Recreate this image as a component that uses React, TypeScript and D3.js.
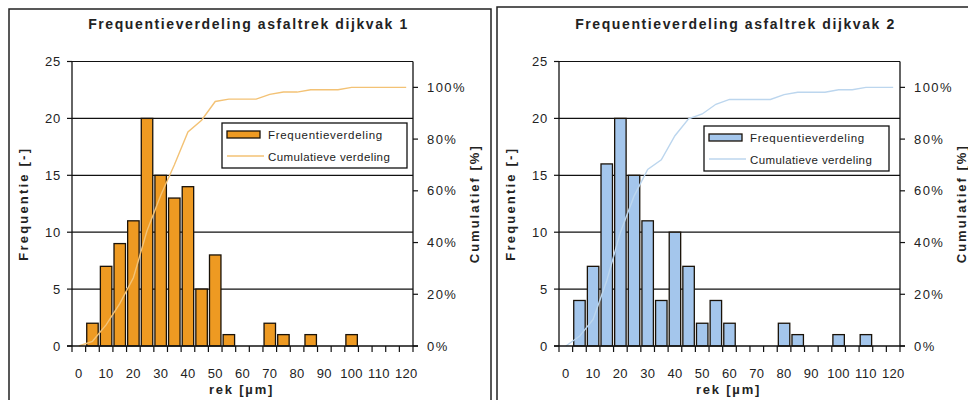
import * as React from "react";
import { scaleBand, scaleLinear, line, cumsum, sum } from "d3";

const categories = [0, 5, 10, 15, 20, 25, 30, 35, 40, 45, 50, 55, 60, 65, 70, 75, 80, 85, 90, 95, 100, 105, 110, 115, 120];
const tickLabels = ["0", "10", "20", "30", "40", "50", "60", "70", "80", "90", "100", "110", "120"];
const freqDijkvak1 = [0, 2, 7, 9, 11, 20, 15, 13, 14, 5, 8, 1, 0, 0, 2, 1, 0, 1, 0, 0, 1, 0, 0, 0, 0];
const freqDijkvak2 = [0, 4, 7, 16, 20, 15, 11, 4, 10, 7, 2, 4, 2, 0, 0, 0, 2, 1, 0, 0, 1, 0, 1, 0, 0];
const freqTicks = [0, 5, 10, 15, 20, 25];
const pctTicks = [0, 0.2, 0.4, 0.6, 0.8, 1.0];
const legendLabels = ["Frequentieverdeling", "Cumulatieve verdeling"];

const FONT = "'Liberation Sans', Arial, sans-serif";
const INK = "#222";

const Chart = (props: {
  left: number; title: string; data: number[]; barFill: string; lineColor: string;
  legendX: number; legendY: number;
}) => {
  const { left, title, data, barFill, lineColor, legendX, legendY } = props;
  const right = left + 341;
  const top = 61.5;
  const bottom = 346;

  const xScale = scaleBand().domain(categories.map(String)).range([left, right]);
  const step = xScale.step();
  const yScale = scaleLinear().domain([0, 25]).range([bottom, top]);
  const pScale = scaleLinear().domain([0, 1.1]).range([bottom, top]);

  const total = sum(data);
  const cum = Array.from(cumsum(data)).map((v) => v / total);
  const cx = (i: number) => (xScale(String(categories[i])) as number) + step / 2;
  const path = line<number>().x((_, i) => cx(i)).y((d) => pScale(d))(cum) || "";

  const midX = (left + right) / 2;
  const midY = (top + bottom) / 2;

  return (
    <g fontFamily={FONT} fill={INK}>
      <text x={midX + 6} y={29} textAnchor="middle" fontWeight="bold" fontSize={14} letterSpacing={1.6}>{title}</text>

      {freqTicks.slice(1).map((t) => (
        <line key={t} x1={left} x2={right} y1={yScale(t)} y2={yScale(t)} stroke="#111" strokeWidth={1.2} />
      ))}

      {data.map((d, i) => d > 0 && (
        <rect key={i} x={(xScale(String(categories[i])) as number) + step * 0.08} y={yScale(d)}
          width={step * 0.84} height={bottom - yScale(d)} fill={barFill} stroke="#1a1208" strokeWidth={1.3} />
      ))}

      <path d={path} fill="none" stroke={lineColor} strokeWidth={1.4} />

      {/* axes */}
      <line x1={left} x2={left} y1={top} y2={bottom} stroke="#111" strokeWidth={1.3} />
      <line x1={right} x2={right} y1={top} y2={bottom} stroke="#111" strokeWidth={1.3} />
      <line x1={left - 5} x2={right + 5} y1={bottom} y2={bottom} stroke="#111" strokeWidth={1.3} />
      {freqTicks.map((t) => (
        <g key={t}>
          <line x1={left - 5} x2={left} y1={yScale(t)} y2={yScale(t)} stroke="#111" strokeWidth={1.2} />
          <text x={left - 11} y={yScale(t)} dy="0.35em" textAnchor="end" fontSize={13} letterSpacing={0.8}>{t}</text>
        </g>
      ))}
      {pctTicks.map((t) => (
        <g key={t}>
          <line x1={right} x2={right + 5} y1={pScale(t)} y2={pScale(t)} stroke="#111" strokeWidth={1.2} />
          <text x={right + 14} y={pScale(t)} dy="0.35em" fontSize={13} letterSpacing={1.4}>{`${Math.round(t * 100)}%`}</text>
        </g>
      ))}
      {categories.concat([125]).map((c, i) => (
        <line key={c} x1={left + i * step} x2={left + i * step} y1={bottom} y2={bottom + 6} stroke="#111" strokeWidth={1.2} />
      ))}
      {tickLabels.map((l) => (
        <text key={l} x={(xScale(l) as number) + step / 2} y={378} textAnchor="middle" fontSize={13} letterSpacing={0.3}>{l}</text>
      ))}

      <text x={midX - 1} y={394} textAnchor="middle" fontWeight="bold" fontSize={13} letterSpacing={1.8}>rek  [µm]</text>
      <text transform={`translate(${left - 44},${midY}) rotate(-90)`} textAnchor="middle" fontWeight="bold" fontSize={13} letterSpacing={2.2}>Frequentie [-]</text>
      <text transform={`translate(${right + 66},${midY}) rotate(-90)`} textAnchor="middle" fontWeight="bold" fontSize={13} letterSpacing={2}>Cumulatief [%]</text>

      {/* legend */}
      <rect x={legendX} y={legendY} width={185} height={45} fill="white" stroke="#111" strokeWidth={1.3} />
      <rect x={legendX + 5} y={legendY + 8} width={33} height={7} fill={barFill} stroke="#1a1208" strokeWidth={1.3} />
      <text x={legendX + 46} y={legendY + 16} fontSize={11.5} letterSpacing={0.7}>{legendLabels[0]}</text>
      <line x1={legendX + 5} x2={legendX + 42} y1={legendY + 33} y2={legendY + 33} stroke={lineColor} strokeWidth={1.4} />
      <text x={legendX + 46} y={legendY + 38} fontSize={11.5} letterSpacing={0.4}>{legendLabels[1]}</text>
    </g>
  );
};

export default function App() {
  return (
    <svg width={968} height={400} style={{ position: "absolute", left: 0, top: 0, background: "white" }}>
      <rect x={0} y={0} width={968} height={400} fill="white" />
      <rect x={9} y={9} width={482} height={400} fill="none" stroke="#222" strokeWidth={1.5} />
      <rect x={497} y={7} width={480} height={400} fill="none" stroke="#222" strokeWidth={1.5} />
      <Chart left={72} title="Frequentieverdeling asfaltrek dijkvak 1" data={freqDijkvak1}
        barFill="#EE9A22" lineColor="#F3C275" legendX={222} legendY={123} />
      <Chart left={559} title="Frequentieverdeling asfaltrek dijkvak 2" data={freqDijkvak2}
        barFill="#A4C6EC" lineColor="#BCD6EE" legendX={704} legendY={126} />
    </svg>
  );
}
